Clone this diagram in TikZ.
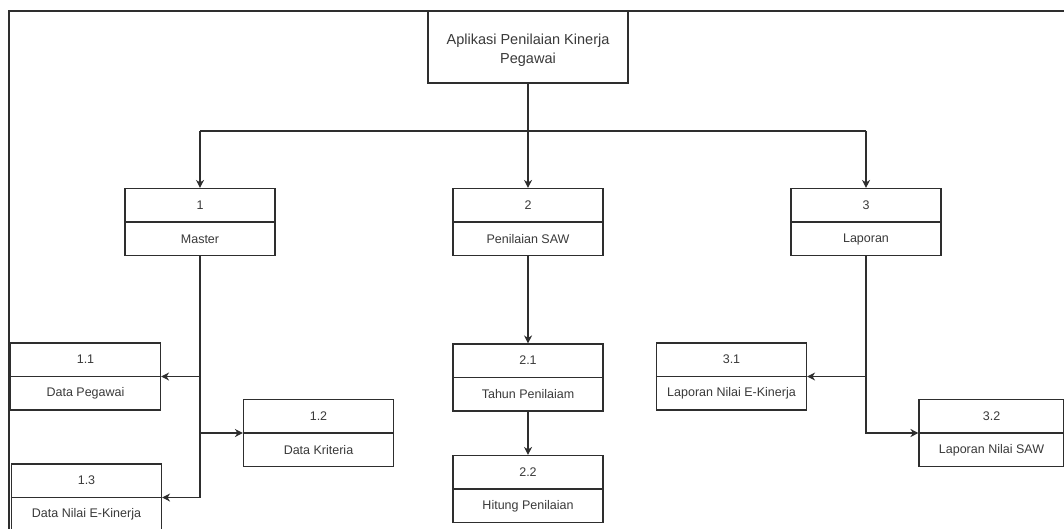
\documentclass[tikz,border=0pt]{standalone}
\usepackage{fontspec}
\setmainfont{Liberation Sans}
\usetikzlibrary{arrows.meta}
\definecolor{ink}{HTML}{2E2E2E}
\definecolor{txt}{HTML}{3A3A3A}
\tikzset{
  box/.style={draw=ink, line width=1.1pt, minimum width=150pt, minimum height=67pt, inner sep=0pt},
  lbl/.style={text=txt, font=\fontsize{12.5}{15}\selectfont, inner sep=0pt},
  conn/.style={draw=ink, line width=1.1pt},
  arr/.style={conn, -{Stealth[length=8pt,width=8pt,inset=2.5pt]}},
}
% two-part box: number above the divider, title below it
\newcommand{\splitbox}[5][150pt]{%
  \node[box, minimum width=#1] (#2) at (#3) {};
  \draw[conn] (#2.west) -- (#2.east);
  \node[lbl] (#2-num) at ($(#2.north)!0.5!(#2.center)$) {#4};
  \node[lbl] (#2-txt) at ($(#2.south)!0.5!(#2.center)$) {#5};
}
\usetikzlibrary{calc}
\begin{document}
\begin{tikzpicture}[x=1pt,y=-1pt]
\useasboundingbox (0,0) rectangle (1064,529);
\fill[white] (0,0) rectangle (1064,529);

% outer frame (top and left edges)
\draw[draw=ink, line width=2pt] (9,529) -- (9,11) -- (1064,11);

% root
\node[box, minimum width=200pt, minimum height=72pt] (top) at (528,47) {};
\node[text=txt, align=center, font=\fontsize{14.5}{19}\selectfont, inner sep=0pt] (top-txt) at (528,50) {Aplikasi Penilaian Kinerja\\Pegawai};

% level 1
\splitbox{b1}{200,222}{1}{Master}
\splitbox{b2}{528,222}{2}{Penilaian SAW}
\splitbox{b3}{866,222}{3}{Laporan}

% level 2
\splitbox{b11}{85.5,376.5}{1.1}{Data Pegawai}
\splitbox{b12}{318.5,433}{1.2}{Data Kriteria}
\splitbox{b13}{86.5,497.5}{1.3}{Data Nilai E-Kinerja}
\splitbox{b21}{528,377.5}{2.1}{Tahun Penilaiam}
\splitbox{b22}{528,489}{2.2}{Hitung Penilaian}
\splitbox{b31}{731.5,376.5}{3.1}{Laporan Nilai E-Kinerja}
\splitbox[145pt]{b32}{991.5,433}{3.2}{Laporan Nilai SAW}

% root to level 1
\coordinate (busL) at (200,131);
\coordinate (busR) at (866,131);
\draw[conn] (busL) -- (busR);
\draw[arr] (busL) -- (b1.north);
\draw[arr] (busR) -- (b3.north);
\draw[arr] (top.south) -- (b2.north);

% Master branch
\draw[arr] (b1.south) |- (b11.east);
\draw[arr] (b1.south) |- (b12.west);
\draw[arr] (b1.south) |- (b13.east);

% Penilaian SAW branch
\draw[arr] (b2.south) -- (b21.north);
\draw[arr] (b21.south) -- (b22.north);

% Laporan branch
\draw[arr] (b3.south) |- (b31.east);
\draw[arr] (b3.south) |- (b32.west);
\end{tikzpicture}
\end{document}
